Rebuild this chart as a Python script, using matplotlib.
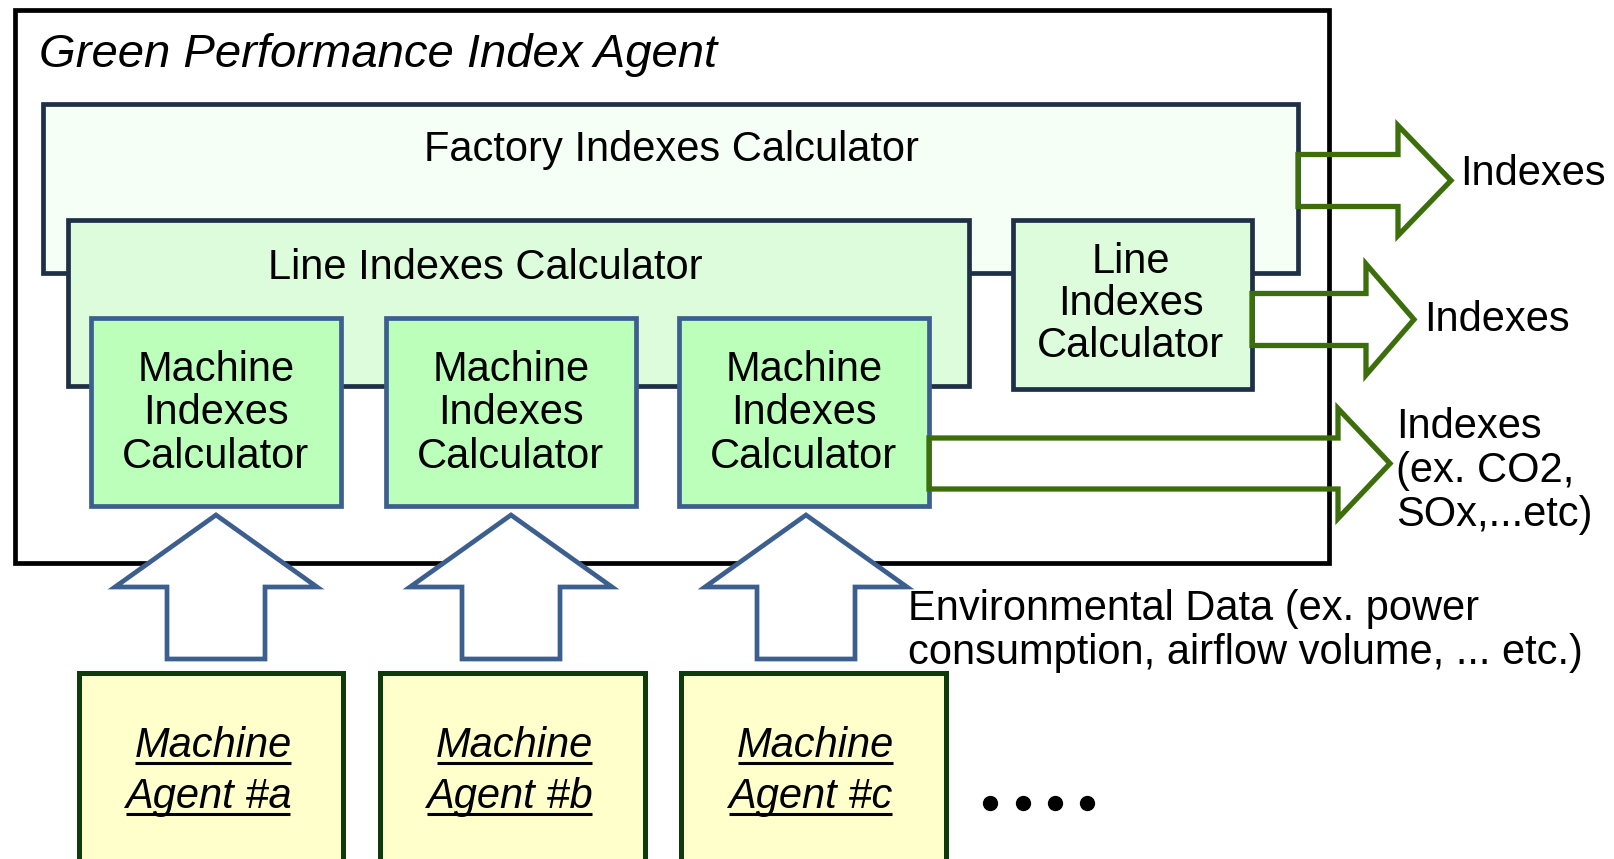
import matplotlib
matplotlib.use("Agg")
import matplotlib.pyplot as plt
from matplotlib.patches import Rectangle, Polygon

plt.rcParams['font.family'] = ['Liberation Sans', 'DejaVu Sans']

# ---- texts ----
title = "Green Performance Index Agent"
factory_label = "Factory Indexes Calculator"
line_label = "Line Indexes Calculator"
line_small_lines = ["Line", "Indexes", "Calculator"]
machine_calc_lines = ["Machine", "Indexes", "Calculator"]
agent_names = ["a", "b", "c"]
out_labels = [["Indexes"], ["Indexes"], ["Indexes", "(ex. CO2,", "SOx,...etc)"]]
env_lines = ["Environmental Data (ex. power", "consumption, airflow volume, ... etc.)"]

# ---- colours ----
c_frame = "black"
c_dark = "#1e3048"
c_blue = "#3c5f8f"
c_green = "#3d6e0c"
c_agent_edge = "#0f3a0c"
f_factory = "#f6fff6"
f_line = "#dcfcdc"
f_machine = "#bbffbb"
f_agent = "#ffffcc"

W, H = 1615, 859
fig = plt.figure(figsize=(W / 100, H / 100), dpi=100)
ax = fig.add_axes([0, 0, 1, 1])
ax.set_xlim(0, W)
ax.set_ylim(H, 0)
ax.axis("off")

FS = 30
LW = 3.4


def box(x0, y0, x1, y1, fc, ec, z, lw=LW):
    ax.add_patch(Rectangle((x0, y0), x1 - x0, y1 - y0, facecolor=fc, edgecolor=ec,
                           lw=lw, zorder=z, joinstyle="miter"))


def txt(x, y, s, ha="center", size=FS, style="normal", z=20):
    return ax.text(x, y, s, ha=ha, va="baseline", fontsize=size, style=style, zorder=z)


# outer agent frame
box(15, 10, 1329, 563, "none", c_frame, 1)
txt(39, 67, title, ha="left", size=34, style="italic")

# factory calculator
box(43, 104, 1298, 273, f_factory, c_dark, 2)
txt(672, 161, factory_label)

# line calculator (big)
box(68, 220, 969, 386, f_line, c_dark, 3)
txt(485, 279, line_label)

# line calculator (small)
box(1013, 220, 1252, 389, f_line, c_dark, 3)
for i, s in enumerate(line_small_lines):
    txt(1131, 273 + 42 * i, s)

# machine indexes calculators
machine_x = [(91, 341), (386, 636), (679, 929)]
for x0, x1 in machine_x:
    box(x0, 318, x1, 506, f_machine, c_blue, 4)
    for i, s in enumerate(machine_calc_lines):
        txt((x0 + x1) / 2, 381 + 43.5 * i, s)


# green output arrows (outline only)
def right_arrow(x_tail, yc, sh, x_head, hh, x_tip):
    pts = [(x_tail, yc - sh), (x_head, yc - sh), (x_head, yc - hh), (x_tip, yc),
           (x_head, yc + hh), (x_head, yc + sh), (x_tail, yc + sh)]
    ax.add_patch(Polygon(pts, closed=True, facecolor="none", edgecolor=c_green,
                         lw=3.8, zorder=5, joinstyle="miter"))


arrows = [(1298, 180.5, 26, 1398, 55, 1451),
          (1252, 319.5, 26, 1366, 55.5, 1414),
          (929, 463.5, 25.5, 1338, 55, 1390)]
label_pos = [(1460, 185), (1424, 331), (1396, 438)]
for a, (lx, ly), lines in zip(arrows, label_pos, out_labels):
    right_arrow(*a)
    for i, s in enumerate(lines):
        txt(lx, ly + 44 * i, s, ha="left")


# blue input arrows (white fill)
def up_arrow(xc, y_tip, y_head, hw, sw, y_bot):
    pts = [(xc, y_tip), (xc + hw, y_head), (xc + sw, y_head), (xc + sw, y_bot),
           (xc - sw, y_bot), (xc - sw, y_head), (xc - hw, y_head)]
    ax.add_patch(Polygon(pts, closed=True, facecolor="white", edgecolor=c_blue,
                         lw=LW, zorder=6, joinstyle="miter"))


for xc in [216, 511, 806]:
    up_arrow(xc, 515, 587, 101, 49, 659)

for i, s in enumerate(env_lines):
    txt(908, 620 + 44 * i, s, ha="left")

# machine agents
agent_x = [(79, 343), (380, 645), (681, 946)]
texts = []
for (x0, x1), n in zip(agent_x, agent_names):
    box(x0, 673, x1, 872, f_agent, c_agent_edge, 7, lw=3.6)
    xc = (x0 + x1) / 2
    texts.append((txt(xc + 2, 757, "Machine", style="italic"), 763))
    texts.append((txt(xc - 3, 808, "Agent #" + n, style="italic"), 814))

# underlines
fig.canvas.draw()
r = fig.canvas.get_renderer()
inv = ax.transData.inverted()
for t, yu in texts:
    bb = t.get_window_extent(r)
    xa = inv.transform((bb.x0, 0))[0]
    xb = inv.transform((bb.x1, 0))[0]
    ax.plot([xa + 1, xb - 1], [yu, yu], color="black", lw=2.2, zorder=21,
            solid_capstyle="butt")

# trailing dots
ax.plot([990, 1023, 1055, 1087], [803, 803, 803, 803], "o", color="black",
        markersize=10, zorder=20)

fig.savefig("out.png", dpi=100, facecolor="white")
